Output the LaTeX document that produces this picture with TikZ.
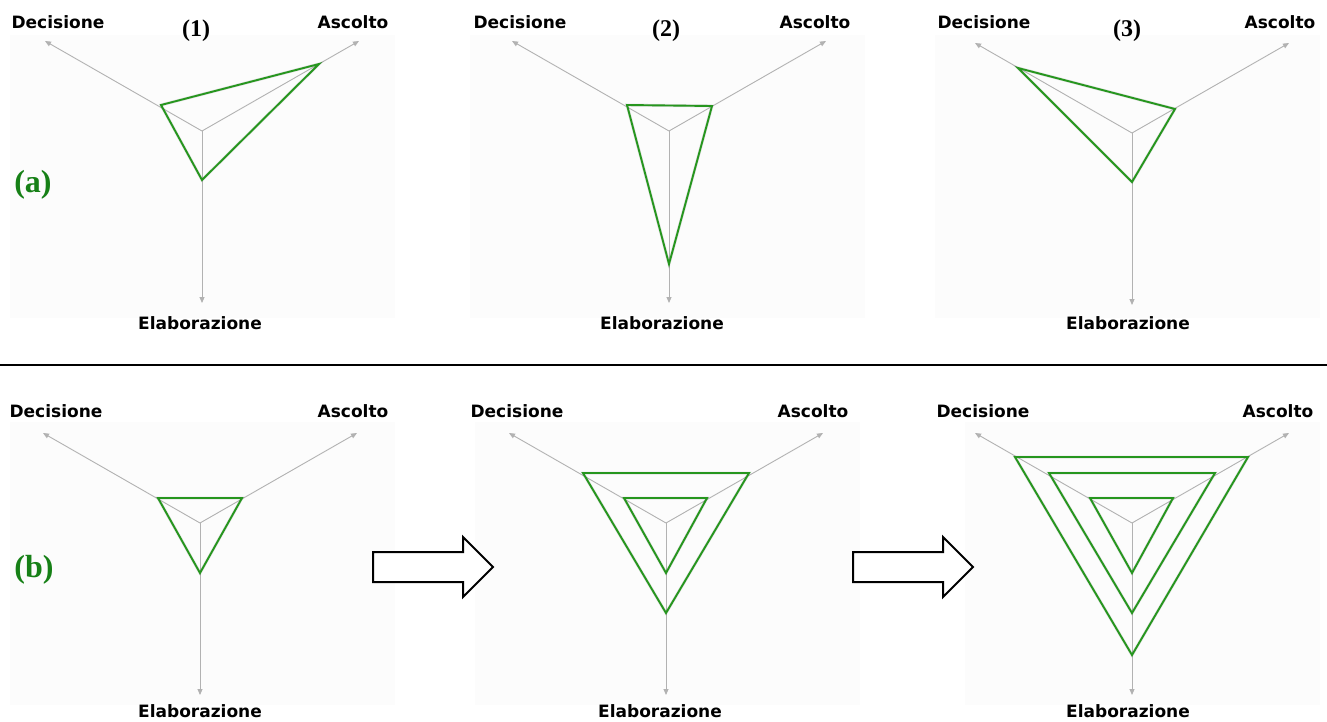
\documentclass[tikz,border=0pt]{standalone}
\usepackage{fontspec}
\setmainfont{Liberation Serif}
\newfontfamily\axisfont{DejaVu Sans}
\usetikzlibrary{arrows.meta,calc}

\definecolor{linegreen}{RGB}{38,150,30}
\definecolor{taggreen}{RGB}{22,128,22}
\definecolor{axisgray}{RGB}{178,178,178}

\tikzset{
  axis/.style={draw=axisgray, line width=0.9pt, -{Triangle[length=6pt,width=5pt]}},
  profile/.style={draw=linegreen, line width=1.9pt, line join=miter},
  profshadow/.style={draw=black, opacity=0.10, line width=3pt, line join=miter, shift={(1,2)}},
  axlabel/.style={font=\axisfont\bfseries\fontsize{17}{20}\selectfont, inner sep=1pt},
  numlabel/.style={font=\bfseries\fontsize{24}{28}\selectfont, inner sep=0pt},
  rowlabel/.style={font=\bfseries\fontsize{32}{36}\selectfont, text=taggreen, inner sep=0pt},
  blockarrow/.style={draw=black, line width=2pt, fill=white, line join=miter},
  panelbg/.style={fill=black!1.2, draw=none},
}

% three axes from a centre: Decisione (upper left), Ascolto (upper right), Elaborazione (down)
\newcommand{\radaraxes}[3]{%
  \coordinate (#1) at (#2,#3);
  \coordinate (#1-D) at ($(#1)+(-157,-90)$);
  \coordinate (#1-A) at ($(#1)+(157,-90)$);
  \coordinate (#1-E) at ($(#1)+(0,172)$);
  \draw[axis] (#1) -- (#1-D);
  \draw[axis] (#1) -- (#1-A);
  \draw[axis] (#1) -- (#1-E);
}
% a triangle through three named points
\newcommand{\profiletri}[3]{%
  \draw[profshadow] (#1) -- (#2) -- (#3) -- cycle;
  \draw[profile] (#1) -- (#2) -- (#3) -- cycle;
}

\begin{document}
\begin{tikzpicture}[x=1pt,y=-1pt]
\useasboundingbox (0,0) rectangle (1327,721);
\fill[white] (0,0) rectangle (1327,721);

% faint panel backgrounds
\fill[panelbg] (10,35) rectangle (395,318);
\fill[panelbg] (470,35) rectangle (865,318);
\fill[panelbg] (935,35) rectangle (1320,318);
\fill[panelbg] (10,422) rectangle (395,705);
\fill[panelbg] (475,422) rectangle (860,705);
\fill[panelbg] (965,422) rectangle (1320,705);

% ---------- row (a) ----------
\radaraxes{t1}{202}{131}
\coordinate (t1d) at (161,105);
\coordinate (t1a) at (319,64);
\coordinate (t1e) at (202,180);
\profiletri{t1d}{t1a}{t1e}

\radaraxes{t2}{669}{131}
\coordinate (t2d) at (627,105);
\coordinate (t2a) at (712,106);
\coordinate (t2e) at (669,264);
\profiletri{t2d}{t2a}{t2e}

\radaraxes{t3}{1132}{133}
\coordinate (t3d) at (1018,68);
\coordinate (t3a) at (1175,109);
\coordinate (t3e) at (1132,182);
\profiletri{t3d}{t3a}{t3e}

\node[axlabel] (t1dl) at (58,22) {Decisione};
\node[axlabel] (t1al) at (353,22) {Ascolto};
\node[axlabel] (t1el) at (200,323) {Elaborazione};
\node[numlabel] (n1) at (196,31) {(1)};

\node[axlabel] (t2dl) at (520,22) {Decisione};
\node[axlabel] (t2al) at (815,22) {Ascolto};
\node[axlabel] (t2el) at (662,323) {Elaborazione};
\node[numlabel] (n2) at (666,31) {(2)};

\node[axlabel] (t3dl) at (984,22) {Decisione};
\node[axlabel] (t3al) at (1280,22) {Ascolto};
\node[axlabel] (t3el) at (1128,323) {Elaborazione};
\node[numlabel] (n3) at (1127,31) {(3)};

\node[rowlabel] (rowa) at (33,185) {(a)};

% separator
\draw[line width=2.5pt] (0,365) -- (1327,365);

% ---------- row (b) ----------
\radaraxes{b1}{200}{523}
\coordinate (b1d) at (158,498);
\coordinate (b1a) at (242,498);
\coordinate (b1e) at (200,573);
\profiletri{b1d}{b1a}{b1e}

\radaraxes{b2}{666}{523}
\coordinate (b2d) at (624,498);
\coordinate (b2a) at (707,498);
\coordinate (b2e) at (666,573);
\profiletri{b2d}{b2a}{b2e}
\coordinate (b2dd) at (583,473);
\coordinate (b2aa) at (749,473);
\coordinate (b2ee) at (666,613);
\profiletri{b2dd}{b2aa}{b2ee}

\radaraxes{b3}{1132}{523}
\coordinate (b3d) at (1090,498);
\coordinate (b3a) at (1173,498);
\coordinate (b3e) at (1132,573);
\profiletri{b3d}{b3a}{b3e}
\coordinate (b3dd) at (1049,473);
\coordinate (b3aa) at (1215,473);
\coordinate (b3ee) at (1132,613);
\profiletri{b3dd}{b3aa}{b3ee}
\coordinate (b3ddd) at (1015,457);
\coordinate (b3aaa) at (1248,457);
\coordinate (b3eee) at (1132,655);
\profiletri{b3ddd}{b3aaa}{b3eee}

\node[axlabel] (b1dl) at (56,411) {Decisione};
\node[axlabel] (b1al) at (353,411) {Ascolto};
\node[axlabel] (b1el) at (200,711) {Elaborazione};

\node[axlabel] (b2dl) at (517,411) {Decisione};
\node[axlabel] (b2al) at (813,411) {Ascolto};
\node[axlabel] (b2el) at (660,711) {Elaborazione};

\node[axlabel] (b3dl) at (983,411) {Decisione};
\node[axlabel] (b3al) at (1278,411) {Ascolto};
\node[axlabel] (b3el) at (1128,711) {Elaborazione};

\node[rowlabel] (rowb) at (34,570) {(b)};

% block arrows between the stages
\draw[blockarrow] (373,552) -- (463,552) -- (463,537) -- (493,567) -- (463,597) -- (463,582) -- (373,582) -- cycle;
\draw[blockarrow] (853,552) -- (943,552) -- (943,537) -- (973,567) -- (943,597) -- (943,582) -- (853,582) -- cycle;

\end{tikzpicture}
\end{document}
